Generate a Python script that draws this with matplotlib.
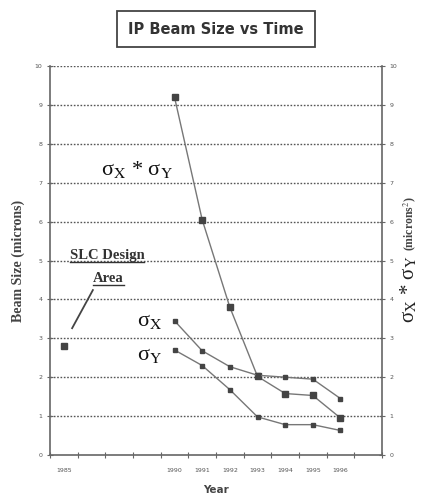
import matplotlib.pyplot as plt
import numpy as np

# categories on the x axis (Excel-style, empty slots for 1986-1989 and after 1996)
cats = ['1985', '', '', '', '1990', '1991', '1992', '1993', '1994', '1995', '1996', '']
years = ['1990', '1991', '1992', '1993', '1994', '1995', '1996']
slc_design = 2.8
sig_xy = [9.2, 6.05, 3.8, 2.02, 1.58, 1.53, 0.95]
sig_x = [3.45, 2.68, 2.27, 2.05, 2.0, 1.95, 1.45]
sig_y = [2.7, 2.3, 1.68, 0.98, 0.78, 0.78, 0.63]

xpos = [cats.index(y) for y in years]

fig = plt.figure(figsize=(4.22, 4.98), dpi=100)
ax = fig.add_axes([50/422, 1-455/498, 332/422, 389/498])
ax.set_xlim(-0.5, len(cats) - 0.5)
ax.set_ylim(0, 10)

for v in range(1, 11):
    ax.axhline(v, color='#555555', lw=1.0, ls=(0, (1.2, 1.2)), zorder=1)

line_c = '#777777'
mk_c = '#444444'
ax.plot(xpos, sig_xy, color=line_c, lw=1.0, marker='s', ms=4.5, mfc=mk_c, mec=mk_c, zorder=3)
ax.plot(xpos, sig_x, color=line_c, lw=1.0, marker='s', ms=3, mfc=mk_c, mec=mk_c, zorder=3)
ax.plot(xpos, sig_y, color=line_c, lw=1.0, marker='s', ms=3, mfc=mk_c, mec=mk_c, zorder=3)
ax.plot([cats.index('1985')], [slc_design], ls='none', marker='s', ms=4, mfc=mk_c, mec=mk_c, zorder=3)

# axes styling
for s in ['left', 'bottom', 'right']:
    ax.spines[s].set_color('#666666')
    ax.spines[s].set_linewidth(1.2)
ax.spines['top'].set_visible(False)

ax.set_xticks(np.arange(-0.5, len(cats)))
ax.set_xticklabels([])
ax.set_xticks(np.arange(len(cats)), minor=True)
ax.set_xticklabels(cats, minor=True, fontsize=4.5, color='#555555')
ax.tick_params(axis='x', which='major', direction='inout', length=4, color='#666666')
ax.tick_params(axis='x', which='minor', length=0, pad=9)
ax.set_yticks(range(0, 11))
ax.tick_params(axis='y', direction='inout', length=4, labelsize=4.5, labelcolor='#555555', color='#666666')

ax2 = ax.twinx()
ax2.set_ylim(0, 10)
ax2.set_yticks(range(0, 11))
ax2.tick_params(axis='y', direction='inout', length=4, labelsize=4.5, labelcolor='#555555', color='#666666')
for s in ax2.spines.values():
    s.set_visible(False)

ax.set_ylabel('Beam Size (microns)', family='Liberation Serif', fontsize=10, fontweight='bold',
              color='#444444', labelpad=7)
ax.set_xlabel('Year', fontsize=7.5, fontweight='bold', color='#444444', labelpad=9)

fig.text(410/422, 1-251/498, '(microns$^2$)', rotation=90, ha='center', va='bottom',
         family='Liberation Serif', fontsize=8.5, fontweight='bold', color='#444444',
         math_fontfamily='stix')
fig.text(409/422, 1-255/498, 'σ$_{\\rm X}$ * σ$_{\\rm Y}$', rotation=90,
         ha='center', va='top', family='Liberation Serif', fontsize=15, color='#222222',
         math_fontfamily='stix')

# title box
fig.text(216/422, 1-29/498, 'IP Beam Size vs Time', ha='center', va='center', fontsize=10.5,
         fontweight='bold', color='#333333',
         bbox=dict(boxstyle='square,pad=0.75', fc='white', ec='#444444', lw=1.3))

# curve labels
txt = dict(family='Liberation Serif', color='#111111', math_fontfamily='stix',
           ha='center', va='center')
ax.text(2.64, 7.35, 'σ$_{\\rm X}$ * σ$_{\\rm Y}$', fontsize=16, **txt)
ax.text(3.1, 3.42, 'σ$_{\\rm X}$', fontsize=16, **txt)
ax.text(3.1, 2.57, 'σ$_{\\rm Y}$', fontsize=16, **txt)

# SLC design annotation
t1 = ax.text(1.56, 5.12, 'SLC Design', family='Liberation Serif', fontsize=10.5, fontweight='bold',
             color='#333333', ha='center', va='center')
t2 = ax.text(1.62, 4.55, 'Area', family='Liberation Serif', fontsize=10.5, fontweight='bold',
             color='#333333', ha='center', va='center')
ax.plot([0.3, 1.05], [3.26, 4.24], color='#444444', lw=1.3)

fig.canvas.draw()
inv = ax.transData.inverted()
for t in (t1, t2):
    bb = t.get_window_extent()
    (x0, y0), (x1, _) = inv.transform([(bb.x0, bb.y0), (bb.x1, bb.y0)])
    ax.plot([x0, x1], [y0, y0], color='#333333', lw=1.0)

fig.savefig('out.png', dpi=100)
